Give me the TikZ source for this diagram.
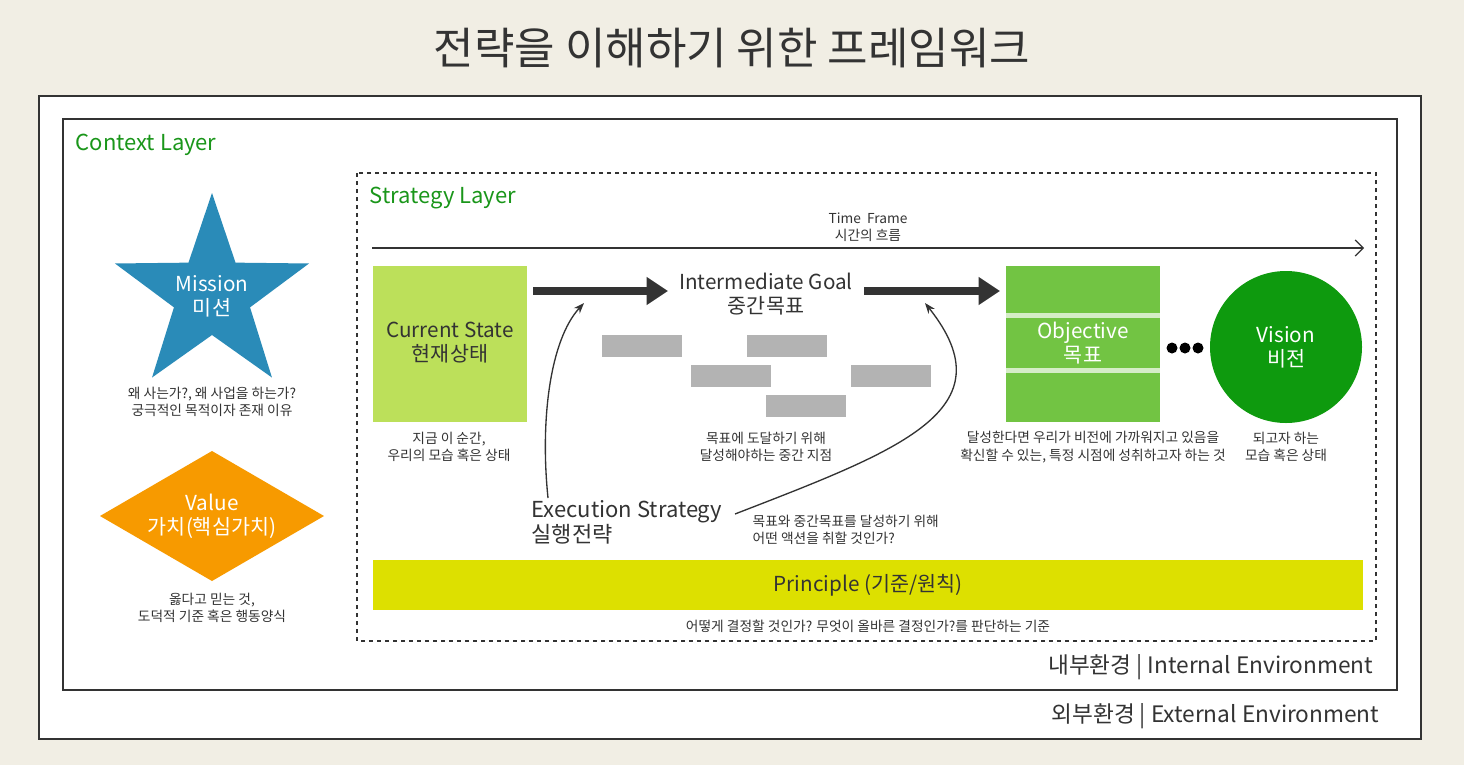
\documentclass[tikz,border=0pt]{standalone}
\usepackage{fontspec}
\setmainfont{Noto Sans CJK KR}
\usetikzlibrary{shapes.geometric,arrows.meta}
\definecolor{bgc}{HTML}{F1EEE4}
\definecolor{grn}{HTML}{1A961A}
\definecolor{starc}{HTML}{2A8BB8}
\definecolor{org}{HTML}{F79A00}
\definecolor{cur}{HTML}{BCE05A}
\definecolor{obj}{HTML}{72C443}
\definecolor{vis}{HTML}{0E9A0E}
\definecolor{prin}{HTML}{DDE000}
\definecolor{gry}{HTML}{B3B3B3}
\definecolor{dk}{HTML}{333333}
\tikzset{
 small/.style={font=\fontsize{10.3}{13}\selectfont,align=center,text=dk},
 big/.style={font=\fontsize{15.5}{18}\selectfont,align=center},
 layer/.style={font=\fontsize{16.5}{18}\selectfont,text=grn,anchor=west},
 thick arrow/.style={line width=6.5pt,draw=dk,-{Triangle[length=16pt,width=20pt,fill=dk]}},
 env/.style={font=\fontsize{17}{19}\selectfont,text=dk,anchor=east}
}
\begin{document}
\begin{tikzpicture}[x=0.75pt,y=-0.75pt]
\fill[bgc] (0,0) rectangle (1464,765);
\useasboundingbox (0,0) rectangle (1464,765);
\node[font=\fontsize{33}{36}\selectfont,text=dk] (title) at (732,48) {전략을 이해하기 위한 프레임워크};
\draw[fill=white,line width=1.5pt,draw=dk] (39,96) rectangle (1421,739);
\draw[line width=1.5pt,draw=dk] (63,119) rectangle (1397,690);
\draw[dashed,line width=1pt,draw=dk] (357,173) rectangle (1376,641);
\node[layer] (ctx) at (71,145) {Context Layer};
\node[layer] (str) at (365,198) {Strategy Layer};
% star
\node[star,star points=5,star point ratio=2.55,minimum size=153pt,fill=starc,draw=none,inner sep=0pt] (starS) at (212,295) {};
\node[big,text=white] (mis) at (212,296) {Mission\\미션};
\node[small] at (212,402) {왜 사는가?, 왜 사업을 하는가?\\궁극적인 목적이자 존재 이유};
\fill[org] (100,516) -- (212,451) -- (324,516) -- (212,581) -- cycle;
\node[big,text=white] (val) at (212,516) {Value\\가치(핵심가치)};
\node[small] at (212,608) {옳다고 믿는 것,\\도덕적 기준 혹은 행동양식};
% time frame
\node[small] (tf) at (868,227) {Time\ \ Frame\\시간의 흐름};
\coordinate (t1) at (372,248); \coordinate (t2) at (1364,248);
\draw[draw=dk,line width=0.9pt,-{Straight Barb[length=6pt]}] (t1) -- (t2);
% current
\fill[cur] (373,266) rectangle (527,422);
\node[big,text=dk] (cs) at (450,343) {Current State\\현재상태};
\node[small] at (449,447) {지금 이 순간,\\우리의 모습 혹은 상태};
\coordinate (a1) at (533,291); \coordinate (a2) at (668,291);
\draw[thick arrow] (a1) -- (a2);
\node[big,text=dk] (ig) at (766,294) {Intermediate Goal\\중간목표};
\fill[gry] (602,335) rectangle (682,357);
\fill[gry] (747,335) rectangle (827,357);
\fill[gry] (691,365) rectangle (771,387);
\fill[gry] (851,365) rectangle (931,387);
\fill[gry] (766,395) rectangle (846,417);
\node[small] at (766,447) {목표에 도달하기 위해\\달성해야하는 중간 지점};
\coordinate (b1) at (864,291); \coordinate (b2) at (1000,291);
\draw[thick arrow] (b1) -- (b2);
% objective
\fill[obj] (1006,266) rectangle (1160,422);
\fill[white!70!obj] (1006,313) rectangle (1160,318);
\fill[white!70!obj] (1006,368) rectangle (1160,373);
\node[big,text=white] (ob) at (1083,343) {Objective\\목표};
\foreach \x in {1172,1185,1198} \fill[black] (\x,348) circle (5.5);
\fill[vis] (1286,347) circle (76);
\node[big,text=white] (vi) at (1286,347) {Vision\\비전};
\node[small] at (1093,447) {달성한다면 우리가 비전에 가까워지고 있음을\\확신할 수 있는, 특정 시점에 성취하고자 하는 것};
\node[small] at (1286,447) {되고자 하는\\모습 혹은 상태};
% execution
\node[font=\fontsize{16.5}{19}\selectfont,align=left,text=dk,anchor=west] (ex) at (527,522) {Execution Strategy\\실행전략};
\coordinate (c1) at (548,498); \coordinate (c2) at (584,303);
\draw[draw=dk,line width=1pt,-{Stealth[length=8pt]}] (c1) .. controls (540,420) and (550,340) .. (c2);
\coordinate (d1) at (735,514); \coordinate (d2) at (925,303);
\draw[draw=dk,line width=1pt,-{Stealth[length=8pt]}] (d1) .. controls (900,450) and (1010,410) .. (d2);
\node[small,align=left,anchor=west] at (748,530) {목표와 중간목표를 달성하기 위해\\어떤 액션을 취할 것인가?};
\fill[prin] (373,560) rectangle (1363,610);
\node[big,text=dk] (pr) at (868,585) {Principle (기준/원칙)};
\node[small] at (868,626) {어떻게 결정할 것인가? 무엇이 올바른 결정인가?를 판단하는 기준};
\node[env] at (1378,667) {내부환경 | Internal Environment};
\node[env] at (1384,716) {외부환경 | External Environment};
\end{tikzpicture}
\end{document}
